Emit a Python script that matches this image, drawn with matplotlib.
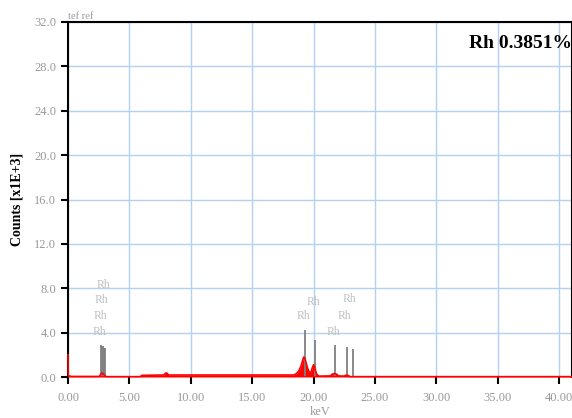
import matplotlib
matplotlib.use("Agg")
import matplotlib.pyplot as plt

# ─── Spectrum data (keV vs counts x1E+3) ──────────────────────────────────────
spec_kev = [0.0, 0.02, 0.05, 0.3, 2.55, 2.65, 2.75, 2.85, 2.95, 3.05, 3.2,
            5.9, 6.0, 7.8, 7.95, 8.05, 8.2, 18.4, 18.6, 18.8, 19.0, 19.1,
            19.2, 19.3, 19.4, 19.5, 19.6, 19.7, 19.8, 19.9, 20.0, 20.1, 20.2,
            20.3, 20.4, 21.4, 21.5, 21.7, 21.9, 22.0, 22.5, 22.6, 22.8, 22.9,
            23.0, 41.0]
spec_counts = [2.0, 0.2, 0.1, 0.05, 0.05, 0.2, 0.35, 0.3, 0.2, 0.05, 0.03,
               0.03, 0.15, 0.18, 0.35, 0.35, 0.18, 0.18, 0.3, 0.55, 1.05, 1.45,
               1.8, 1.65, 1.25, 0.85, 0.55, 0.4, 0.45, 0.85, 1.1, 0.9, 0.4,
               0.2, 0.08, 0.1, 0.25, 0.3, 0.25, 0.1, 0.08, 0.15, 0.15, 0.08,
               0.03, 0.03]

# Rh marker lines
line_kev = [2.70, 2.78, 2.85, 2.92, 3.00, 19.30, 20.10, 21.74, 22.70, 23.20]
line_height = [2.9, 2.8, 2.75, 2.65, 2.6, 4.2, 3.3, 2.9, 2.7, 2.5]

# Rh labels
label_kev = [2.85, 2.69, 2.61, 2.52, 20.0, 19.2, 22.9, 22.5, 21.6]
label_counts = [8.3, 6.9, 5.5, 4.1, 6.8, 5.5, 7.0, 5.5, 4.1]

x_ticks = [0, 5, 10, 15, 20, 25, 30, 35, 40]
y_ticks = [0, 4, 8, 12, 16, 20, 24, 28, 32]

plt.rcParams["font.family"] = ["Liberation Serif", "DejaVu Serif"]

fig = plt.figure(figsize=(5.72, 4.18), dpi=100)
ax = fig.add_axes([68 / 572, 1 - 377 / 418, 504 / 572, 355 / 418])

ax.fill_between(spec_kev, spec_counts, 0, color="red", linewidth=0)
ax.plot(spec_kev, spec_counts, color="red", linewidth=1.2, zorder=5, clip_on=False)
ax.axhline(0, color="red", linewidth=2, zorder=5)

ax.vlines(line_kev, 0, line_height, color="#808080", linewidth=1.3)

for xk, yc in zip(label_kev, label_counts):
    ax.text(xk, yc, "Rh", color="#c0c0c0", fontsize=8.5, ha="center", va="center")

ax.text(1.0, 0.94, "Rh 0.3851%", transform=ax.transAxes, ha="right", va="center",
        fontsize=14, fontweight="bold", color="black")

ax.set_xlim(0, 41.05)
ax.set_ylim(0, 32)
ax.set_xticks(x_ticks)
ax.set_xticklabels([f"{v:.2f}" for v in x_ticks])
ax.set_yticks(y_ticks)
ax.set_yticklabels([f"{v:.1f}" for v in y_ticks])
ax.grid(True, color="#b3d1f2", linewidth=1)
ax.set_axisbelow(True)

ax.tick_params(axis="both", direction="out", length=5, width=1.5, color="black",
               labelcolor="#999999", labelsize=9)
ax.tick_params(axis="x", pad=6)

for side in ["left", "top", "right"]:
    ax.spines[side].set_color("black")
    ax.spines[side].set_linewidth(1.5)
ax.spines["bottom"].set_visible(False)

ax.set_xlabel("keV", color="#999999", fontsize=9, labelpad=1)
ax.set_ylabel("Counts [x1E+3]", fontsize=10, fontweight="bold", color="black", labelpad=8)
ax.set_title("tef ref", loc="left", fontsize=7.5, color="#999999", pad=2)

fig.savefig("out.png", dpi=100)
